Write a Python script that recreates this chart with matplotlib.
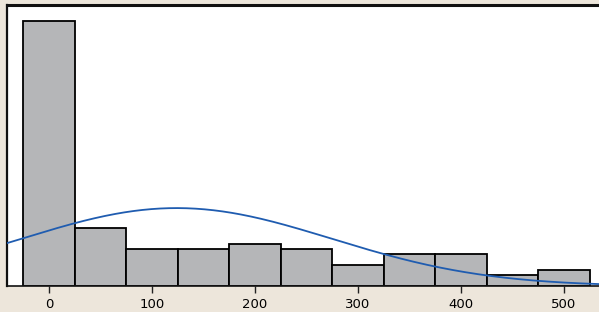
import numpy as np
import matplotlib
matplotlib.use("Agg")
import matplotlib.pyplot as plt

# histogram data: bin centres and counts
bin_centres = [0, 50, 100, 150, 200, 250, 300, 350, 400, 450, 500]
counts = [50, 11, 7, 7, 8, 7, 4, 6, 6, 2, 3]
bin_width = 50
tick_values = [0, 100, 200, 300, 400, 500]

# fitted normal curve from the binned data
centres = np.array(bin_centres, dtype=float)
n = np.array(counts, dtype=float)
total = n.sum()
mean = (centres * n).sum() / total
std = np.sqrt(((centres - mean) ** 2 * n).sum() / total)

fig = plt.figure(figsize=(5.99, 3.12), dpi=100, facecolor="#ede6db")
ax = fig.add_axes([7 / 599, 26 / 312, 1 - 7 / 599, (286 - 5) / 312])
ax.set_facecolor("white")

ax.bar(bin_centres, counts, width=bin_width, color="#b5b6b8",
       edgecolor="black", linewidth=1.3, zorder=2)

xs = np.linspace(-41, 535, 400)
ys = total * bin_width / (std * np.sqrt(2 * np.pi)) * np.exp(-0.5 * ((xs - mean) / std) ** 2)
ax.plot(xs, ys, color="#1f5cb0", linewidth=1.3, zorder=3)

ax.set_xlim(-40.8, 534)
ax.set_ylim(0, 53)
ax.set_xticks(tick_values)
ax.set_xticklabels([str(v) for v in tick_values], fontsize=9.5, family="DejaVu Sans")
ax.set_yticks([])
ax.tick_params(axis="x", direction="out", length=5, width=1, color="#222222", pad=3.5)

for side in ["top", "left", "bottom"]:
    ax.spines[side].set_color("#111111")
ax.spines["top"].set_linewidth(2.2)
ax.spines["left"].set_linewidth(1.6)
ax.spines["bottom"].set_linewidth(1.2)
ax.spines["right"].set_visible(False)

fig.savefig("out.png", dpi=100, facecolor=fig.get_facecolor())
